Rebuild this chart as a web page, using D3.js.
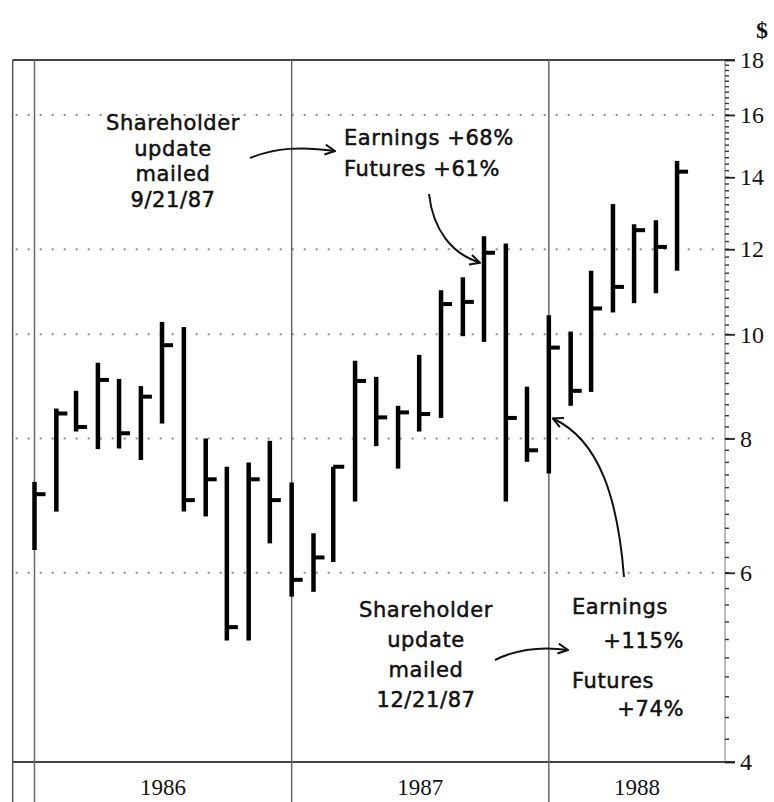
<!DOCTYPE html>
<html>
<head>
<meta charset="utf-8">
<script src="https://cdn.jsdelivr.net/npm/d3@7"></script>
<style>
  body { margin: 0; background: #fff; }
  .hand { font-family: 'DejaVu Sans', 'Noto Sans', sans-serif; font-size: 21px; letter-spacing: 0.6px; fill: #111; stroke: #111; stroke-width: 0.5px; }
  .serif { font-family: 'Liberation Serif', 'DejaVu Serif', serif; fill: #111; }
</style>
</head>
<body>
<script>
const width = 774;
const height = 802;

// monthly high / low / close, Jan 1986 - Jul 1988
const months = ['1986-01','1986-02','1986-03','1986-04','1986-05','1986-06','1986-07','1986-08','1986-09','1986-10','1986-11','1986-12',
  '1987-01','1987-02','1987-03','1987-04','1987-05','1987-06','1987-07','1987-08','1987-09','1987-10','1987-11','1987-12',
  '1988-01','1988-02','1988-03','1988-04','1988-05','1988-06','1988-07'];
const high = [7.29, 8.53, 8.86, 9.41, 9.09, 8.95, 10.27, 10.16, 8.00, 7.53, 7.60, 7.96,
  7.28, 6.53, 7.53, 9.45, 9.13, 8.58, 9.57, 10.99, 11.30, 12.34, 12.15, 8.94,
  10.42, 10.06, 11.46, 13.22, 12.66, 12.77, 14.50];
const low = [6.30, 6.84, 8.12, 7.82, 7.83, 7.64, 8.26, 6.84, 6.77, 5.19, 5.19, 6.39,
  5.70, 5.76, 6.14, 6.99, 7.87, 7.50, 8.12, 8.36, 9.96, 9.84, 6.99, 7.61,
  7.42, 8.58, 8.84, 10.48, 10.69, 10.92, 11.46];
const close = [7.10, 8.44, 8.20, 9.07, 8.09, 8.75, 9.77, 7.01, 7.33, 5.34, 7.33, 7.01,
  5.91, 6.20, 7.53, 9.05, 8.37, 8.46, 8.43, 10.67, 10.72, 11.91, 8.36, 7.80,
  9.72, 8.86, 10.57, 11.07, 12.50, 12.06, 14.17];

const years = ['1986', '1987', '1988'];
const tickValues = [4, 6, 8, 10, 12, 14, 16, 18];
const gridValues = [6, 8, 10, 12, 16];

const noteLeft = ['Shareholder', 'update', 'mailed', '9/21/87'];
const noteTopRight = ['Earnings +68%', 'Futures +61%'];
const noteBottom = ['Shareholder', 'update', 'mailed', '12/21/87'];
const noteBottomRight = ['Earnings', '+115%', 'Futures', '+74%'];

const parseMonth = d3.timeParse('%Y-%m');
const data = months.map((m, i) => ({date: parseMonth(m), high: high[i], low: low[i], close: close[i]}));

const plotTop = 60, plotBottom = 762, axisX = 725;

const x = d3.scaleTime()
  .domain([new Date(1986, 0, 1), new Date(1989, 0, 1)])
  .range([34.5, 34.5 + 3 * 257.4]);
const y = d3.scaleLog().domain([4, 18]).range([plotBottom, plotTop]);

const svg = d3.select('body').append('svg')
  .attr('width', width)
  .attr('height', height);

const defs = svg.append('defs');
defs.append('marker')
  .attr('id', 'arrow')
  .attr('viewBox', '0 0 12 12')
  .attr('refX', 11).attr('refY', 6)
  .attr('markerWidth', 12).attr('markerHeight', 12)
  .attr('markerUnits', 'userSpaceOnUse')
  .attr('orient', 'auto')
  .append('path')
  .attr('d', 'M1,1 L11,6 L1,11')
  .attr('fill', 'none')
  .attr('stroke', '#111')
  .attr('stroke-width', 2);

const leftX = x(new Date(1985, 11, 1));

// dotted gridlines
svg.selectAll('.grid').data(gridValues)
  .enter().append('line')
  .attr('x1', leftX + 3).attr('x2', axisX - 10)
  .attr('y1', d => y(d)).attr('y2', d => y(d))
  .attr('stroke', '#8a8a8a')
  .attr('stroke-width', 2)
  .attr('stroke-dasharray', '2,10');

// frame and year lines
svg.append('line').attr('x1', leftX).attr('x2', axisX + 10).attr('y1', plotTop).attr('y2', plotTop)
  .attr('stroke', '#444').attr('stroke-width', 2);
svg.append('line').attr('x1', leftX).attr('x2', axisX + 10).attr('y1', plotBottom).attr('y2', plotBottom)
  .attr('stroke', '#444').attr('stroke-width', 2);
svg.append('line').attr('x1', leftX).attr('x2', leftX).attr('y1', plotTop).attr('y2', height)
  .attr('stroke', '#555').attr('stroke-width', 1.5);

const yearStarts = years.map(yr => new Date(+yr, 0, 1));
svg.selectAll('.yearline').data(yearStarts)
  .enter().append('line')
  .attr('x1', d => x(d)).attr('x2', d => x(d))
  .attr('y1', plotTop).attr('y2', height)
  .attr('stroke', '#666')
  .attr('stroke-width', 1.5);

svg.selectAll('.yearlabel').data(years)
  .enter().append('text')
  .attr('class', 'serif')
  .attr('x', (d, i) => {
    const a = x(yearStarts[i]);
    const b = Math.min(x(new Date(+d + 1, 0, 1)), axisX);
    return (a + b) / 2;
  })
  .attr('y', 795)
  .attr('text-anchor', 'middle')
  .attr('font-size', 23)
  .text(d => d);

// right axis with minor ticks
svg.append('line').attr('x1', axisX).attr('x2', axisX).attr('y1', plotTop).attr('y2', plotBottom)
  .attr('stroke', '#777').attr('stroke-width', 1);
const minor = d3.range(4, 18.001, 0.2);
svg.selectAll('.minor').data(minor)
  .enter().append('line')
  .attr('x1', axisX).attr('x2', axisX + 4)
  .attr('y1', d => y(d)).attr('y2', d => y(d))
  .attr('stroke', '#333').attr('stroke-width', 1.4);

const axis = svg.append('g')
  .attr('transform', `translate(${axisX},0)`)
  .call(d3.axisRight(y).tickValues(tickValues).tickFormat(d3.format('d')).tickSize(10).tickPadding(5));
axis.select('.domain').remove();
axis.selectAll('.tick line').attr('stroke', '#222').attr('stroke-width', 1.8);
axis.selectAll('.tick text')
  .attr('class', 'serif')
  .attr('font-size', 24)
  .attr('fill', '#111');

svg.append('text').attr('class', 'serif')
  .attr('x', 762).attr('y', 38)
  .attr('text-anchor', 'middle')
  .attr('font-size', 24)
  .attr('font-weight', 'bold')
  .text('$');

// high-low-close bars
const bars = svg.append('g').selectAll('g').data(data).enter().append('g');
bars.append('line')
  .attr('x1', d => x(d.date)).attr('x2', d => x(d.date))
  .attr('y1', d => y(d.high)).attr('y2', d => y(d.low))
  .attr('stroke', '#000').attr('stroke-width', 4.5);
bars.append('line')
  .attr('x1', d => x(d.date)).attr('x2', d => x(d.date) + 11)
  .attr('y1', d => y(d.close)).attr('y2', d => y(d.close))
  .attr('stroke', '#000').attr('stroke-width', 4);

// annotations
svg.selectAll('.nl').data(noteLeft).enter().append('text')
  .attr('class', 'hand').attr('text-anchor', 'middle')
  .attr('x', 173).attr('y', (d, i) => 130 + i * 25.5)
  .text(d => d);

svg.selectAll('.ntr').data(noteTopRight).enter().append('text')
  .attr('class', 'hand')
  .attr('x', 344).attr('y', (d, i) => 145 + i * 31)
  .text(d => d);

svg.selectAll('.nb').data(noteBottom).enter().append('text')
  .attr('class', 'hand').attr('text-anchor', 'middle')
  .attr('x', 426).attr('y', (d, i) => 617 + i * 30)
  .text(d => d);

svg.selectAll('.nbr').data(noteBottomRight).enter().append('text')
  .attr('class', 'hand')
  .attr('text-anchor', (d, i) => i % 2 ? 'end' : 'start')
  .attr('x', (d, i) => i % 2 ? 684 : 572)
  .attr('y', (d, i) => [614, 648, 688, 716][i])
  .text(d => d);

const oct87 = data[21], jan88 = data[24];
const arrows = [
  'M250,158 C275,148 300,146 335,151',
  `M429,194 C433,230 452,254 ${x(oct87.date) - 4},${y(oct87.close) + 10}`,
  'M495,660 C515,650 540,646 568,650',
  `M624,577 C618,500 600,440 ${x(jan88.date) + 4},${y(8.35)}`
];
svg.selectAll('.arrow').data(arrows).enter().append('path')
  .attr('d', d => d)
  .attr('fill', 'none')
  .attr('stroke', '#111')
  .attr('stroke-width', 2)
  .attr('marker-end', 'url(#arrow)');
</script>
</body>
</html>
